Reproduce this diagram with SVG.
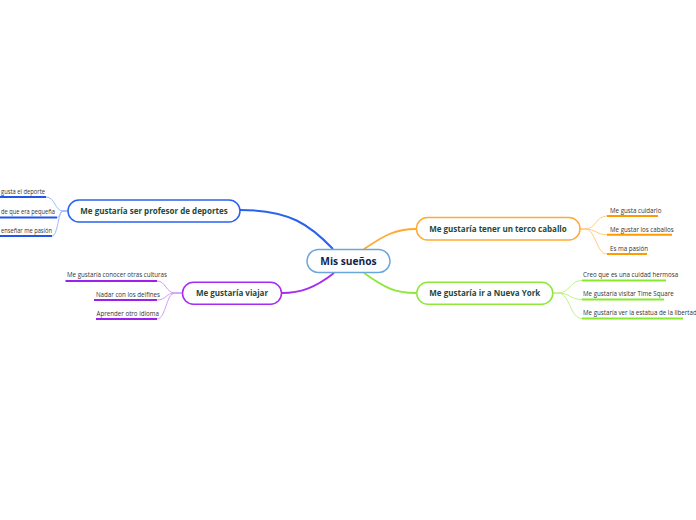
<svg xmlns="http://www.w3.org/2000/svg" width="696" height="520" viewBox="0 0 696 520">
<style>
text{font-family:"Open Sans","Noto Sans","Liberation Sans",sans-serif}
.main{font-size:8px;font-weight:bold;fill:#1d4a3c;text-anchor:middle}
.center{font-size:10.2px;font-weight:bold;fill:#10224d;text-anchor:middle}
.sub{font-size:6.2px;fill:#333333}
.subr{font-size:6.2px;fill:#333333;text-anchor:end}
.box{fill:#ffffff;stroke-width:1.5}
path{fill:none}
</style>
<rect width="696" height="520" fill="#ffffff"/>
<g id="connectors">
  <path d="M240,210 C290,210 310,225 333,249" stroke="#2a62f0" stroke-width="2"/>
  <path d="M364,249 C385,235 395,229 416,229" stroke="#ffaa33" stroke-width="1.8"/>
  <path d="M334,273 C315,288 300,293 282,293" stroke="#a52cf0" stroke-width="1.8"/>
  <path d="M364,273 C385,288 395,293 416,293" stroke="#8ee83a" stroke-width="1.8"/>
  <g stroke="#ffcc80" stroke-width="1">
    <path d="M580,229 L585,229 C596,229 596,216 607,216"/>
    <path d="M580,229 L585,229 C596,229 596,234.7 607,234.7"/>
    <path d="M580,229 L585,229 C596,229 596,254 607,254"/>
  </g>
  <g stroke="#c3f08a" stroke-width="1">
    <path d="M553,293 L558,293 C570,293 570,280.5 582,280.5"/>
    <path d="M553,293 L558,293 C570,293 570,299.5 582,299.5"/>
    <path d="M553,293 L558,293 C570,293 570,318.5 582,318.5"/>
  </g>
  <g stroke="#9fb8ff" stroke-width="1">
    <path d="M68,211 L63,211 C55,211 55,197 46,197"/>
    <path d="M68,211 L63,211 C60,211 60,217.5 57,217.5"/>
    <path d="M68,211 L63,211 C58,211 58,236 52,236"/>
  </g>
  <g stroke="#d39cf8" stroke-width="1">
    <path d="M182,293 L175,293 C166,293 166,281 157,281"/>
    <path d="M182,293 L175,293 C166,293 166,300 157,300"/>
    <path d="M182,293 L175,293 C166,293 166,319 157,319"/>
  </g>
</g>
<g id="center">
  <rect class="box" x="307" y="249.5" width="83" height="23" rx="11.5" stroke="#6aa6dc"/>
  <text class="center" x="348.5" y="264.6">Mis sueños</text>
</g>
<g id="node-profesor">
  <rect class="box" x="68" y="200" width="172" height="22" rx="11" stroke="#2a62f0"/>
  <text class="main" x="154" y="213.9">Me gustaría ser profesor de deportes</text>
</g>
<g id="sub-profesor-1">
  <text class="sub" x="1" y="193.5" textLength="44" lengthAdjust="spacingAndGlyphs">gusta el deporte</text>
  <line x1="0" y1="197" x2="46" y2="197" stroke="#2255ee" stroke-width="2"/>
</g>
<g id="sub-profesor-2">
  <text class="sub" x="1" y="213.5" textLength="54" lengthAdjust="spacingAndGlyphs">de que era pequeña</text>
  <line x1="0" y1="217.5" x2="57" y2="217.5" stroke="#2255ee" stroke-width="2"/>
</g>
<g id="sub-profesor-3">
  <text class="sub" x="1" y="232.5" textLength="51" lengthAdjust="spacingAndGlyphs">enseñar me pasión</text>
  <line x1="0" y1="236" x2="52" y2="236" stroke="#2255ee" stroke-width="2"/>
</g>
<g id="node-viajar">
  <rect class="box" x="182.5" y="282.3" width="99" height="22" rx="11" stroke="#a52cf0"/>
  <text class="main" x="232" y="296">Me gustaría viajar</text>
</g>
<g id="sub-viajar-1">
  <text class="subr" x="167" y="277">Me gustaría conocer otras culturas</text>
  <line x1="65.5" y1="281" x2="157" y2="281" stroke="#9b1ff0" stroke-width="2"/>
</g>
<g id="sub-viajar-2">
  <text class="subr" x="160" y="296.5">Nadar con los delfines</text>
  <line x1="94" y1="300" x2="157" y2="300" stroke="#9b1ff0" stroke-width="2"/>
</g>
<g id="sub-viajar-3">
  <text class="subr" x="159" y="315.5">Aprender otro idioma</text>
  <line x1="96" y1="319" x2="157" y2="319" stroke="#9b1ff0" stroke-width="2"/>
</g>
<g id="node-caballo">
  <rect class="box" x="416.5" y="217.5" width="163.5" height="22.5" rx="11" stroke="#ffaa33"/>
  <text class="main" x="498" y="231.6">Me gustaría tener un terco caballo</text>
</g>
<g id="sub-caballo-1">
  <text class="sub" x="610" y="212.5">Me gusta cuidarlo</text>
  <line x1="607" y1="216" x2="658" y2="216" stroke="#ff9a00" stroke-width="2"/>
</g>
<g id="sub-caballo-2">
  <text class="sub" x="610" y="231.5">Me gustar los caballos</text>
  <line x1="607" y1="234.7" x2="672" y2="234.7" stroke="#ff9a00" stroke-width="2"/>
</g>
<g id="sub-caballo-3">
  <text class="sub" x="610" y="250.5">Es ma pasión</text>
  <line x1="607" y1="254" x2="647" y2="254" stroke="#ff9a00" stroke-width="2"/>
</g>
<g id="node-nuevayork">
  <rect class="box" x="416.8" y="282.3" width="136" height="22" rx="11" stroke="#8ee83a"/>
  <text class="main" x="484.8" y="296">Me gustaría ir a Nueva York</text>
</g>
<g id="sub-ny-1">
  <text class="sub" x="583" y="277">Creo que es una cuidad hermosa</text>
  <line x1="582" y1="280.5" x2="666" y2="280.5" stroke="#88ea2c" stroke-width="2"/>
</g>
<g id="sub-ny-2">
  <text class="sub" x="583" y="296">Me gustaría visitar Time Square</text>
  <line x1="582" y1="299.5" x2="664" y2="299.5" stroke="#88ea2c" stroke-width="2"/>
</g>
<g id="sub-ny-3">
  <text class="sub" x="583" y="315">Me gustaría ver la estatua de la libertad</text>
  <line x1="582" y1="318.5" x2="683" y2="318.5" stroke="#88ea2c" stroke-width="2"/>
</g>
</svg>
